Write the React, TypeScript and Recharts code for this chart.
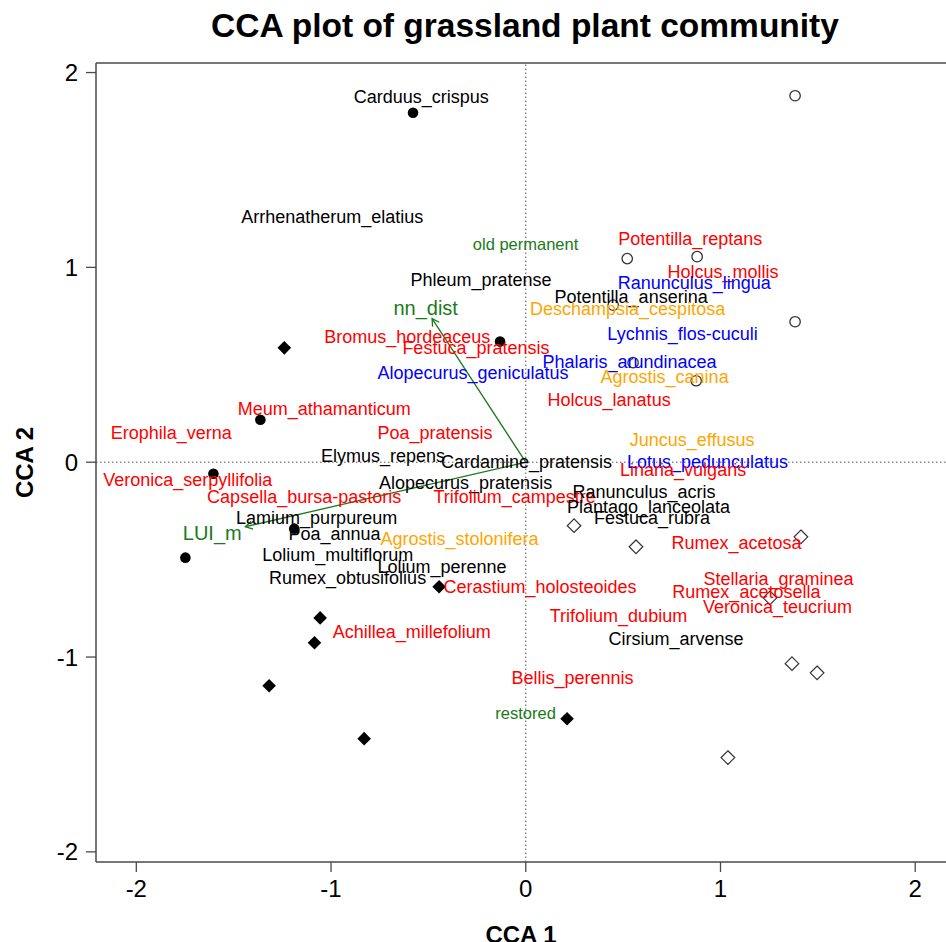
import { ScatterChart, Scatter, XAxis, YAxis, ReferenceLine } from "recharts";

// axis ranges of the R ordination plot
const X_DOMAIN: [number, number] = [-2.207, 2.158];
const Y_DOMAIN: [number, number] = [-2.052, 2.049];
const axisTicks = [-2, -1, 0, 1, 2];

// species scores (label text is centred on the score)
const speciesNames = [
  "Carduus_crispus", "Arrhenatherum_elatius", "Phleum_pratense", "Potentilla_anserina",
  "Potentilla_reptans", "Holcus_mollis", "Ranunculus_lingua", "Deschampsia_cespitosa",
  "Lychnis_flos-cuculi", "Phalaris_arundinacea", "Agrostis_canina", "Holcus_lanatus",
  "Juncus_effusus", "Bromus_hordeaceus", "Festuca_pratensis", "Alopecurus_geniculatus",
  "Meum_athamanticum", "Poa_pratensis", "Erophila_verna", "Elymus_repens",
  "Cardamine_pratensis", "Veronica_serpyllifolia", "Capsella_bursa-pastoris", "Alopecurus_pratensis",
  "Trifolium_campestre", "Lotus_pedunculatus", "Linaria_vulgaris", "Ranunculus_acris",
  "Plantago_lanceolata", "Festuca_rubra", "Lamium_purpureum", "Poa_annua",
  "Agrostis_stolonifera", "Lolium_multiflorum", "Lolium_perenne", "Rumex_obtusifolius",
  "Cerastium_holosteoides", "Rumex_acetosa", "Stellaria_graminea", "Rumex_acetosella",
  "Veronica_teucrium", "Trifolium_dubium", "Cirsium_arvense", "Achillea_millefolium",
  "Bellis_perennis",
];
const speciesX = [
  -0.537, -0.994, -0.230, 0.541,
  0.845, 1.013, 0.865, 0.523,
  0.805, 0.533, 0.713, 0.428,
  0.854, -0.609, -0.256, -0.271,
  -1.035, -0.466, -1.821, -0.733,
  0.004, -1.736, -1.138, -0.309,
  -0.057, 0.933, 0.808, 0.607,
  0.630, 0.648, -1.074, -0.982,
  -0.340, -0.966, -0.430, -0.915,
  0.073, 1.082, 1.298, 1.133,
  1.293, 0.476, 0.772, -0.586,
  0.240,
];
const speciesY = [
  1.876, 1.260, 0.937, 0.850,
  1.147, 0.978, 0.921, 0.788,
  0.660, 0.516, 0.439, 0.321,
  0.116, 0.644, 0.588, 0.460,
  0.275, 0.151, 0.151, 0.033,
  0.003, -0.090, -0.177, -0.105,
  -0.177, 0.003, -0.038, -0.152,
  -0.228, -0.285, -0.285, -0.367,
  -0.393, -0.475, -0.536, -0.593,
  -0.639, -0.413, -0.598, -0.665,
  -0.742, -0.788, -0.906, -0.870,
  -1.106,
];
const speciesColor = [
  "#000000", "#000000", "#000000", "#000000",
  "#FF0000", "#FF0000", "#0000FF", "#FFA500",
  "#0000FF", "#0000FF", "#FFA500", "#FF0000",
  "#FFA500", "#FF0000", "#FF0000", "#0000FF",
  "#FF0000", "#FF0000", "#FF0000", "#000000",
  "#000000", "#FF0000", "#FF0000", "#000000",
  "#FF0000", "#0000FF", "#FF0000", "#000000",
  "#000000", "#000000", "#000000", "#000000",
  "#FFA500", "#000000", "#000000", "#000000",
  "#FF0000", "#FF0000", "#FF0000", "#FF0000",
  "#FF0000", "#FF0000", "#000000", "#FF0000",
  "#FF0000",
];

// site scores, one pair of arrays per plotting symbol
const filledCircleX = [-0.579, -0.132, -1.363, -1.604, -1.189, -1.748];
const filledCircleY = [1.794, 0.619, 0.218, -0.059, -0.341, -0.490];
const filledDiamondX = [-1.240, -1.056, -1.085, -1.318, -0.830, -0.445, 0.212];
const filledDiamondY = [0.587, -0.799, -0.927, -1.147, -1.419, -0.639, -1.317];
const openCircleX = [1.383, 0.521, 0.880, 1.383, 0.449, 0.551, 0.875];
const openCircleY = [1.881, 1.045, 1.055, 0.721, 0.806, 0.511, 0.418];
const openDiamondX = [0.248, 0.566, 1.413, 1.254, 1.367, 1.496, 1.038];
const openDiamondY = [-0.326, -0.434, -0.383, -0.696, -1.034, -1.081, -1.516];

// environmental vectors and factor centroids
const vectorNames = ["nn_dist", "LUI_m"];
const vectorTipX = [-0.481, -1.440];
const vectorTipY = [0.737, -0.331];
const vectorLabelX = [-0.514, -1.610];
const vectorLabelY = [0.793, -0.362];
const centroidNames = ["old permanent", "restored"];
const centroidX = [-0.001, -0.001];
const centroidY = [1.122, -1.287];

const GREEN = "#1a7a1a";
const AXIS = "#4a4a4a";
const FONT = "'Liberation Sans', Arial, Helvetica, sans-serif";

const toPoints = (xs: number[], ys: number[]) => xs.map((x, i) => ({ x, y: ys[i] }));

const speciesData = speciesNames.map((name, i) => ({
  name,
  x: speciesX[i],
  y: speciesY[i],
  color: speciesColor[i],
}));
const vectorLabels = vectorNames.map((name, i) => ({ name, x: vectorLabelX[i], y: vectorLabelY[i] }));
const centroidLabels = centroidNames.map((name, i) => ({ name, x: centroidX[i], y: centroidY[i] }));

function FilledCircle(p: any) {
  return <circle cx={p.cx} cy={p.cy} r={5.3} fill="#000" />;
}
function OpenCircle(p: any) {
  return <circle cx={p.cx} cy={p.cy} r={5.2} fill="none" stroke="#333" strokeWidth={1.3} />;
}
function FilledDiamond(p: any) {
  const s = 6.8;
  return <path d={`M${p.cx},${p.cy - s}L${p.cx + s},${p.cy}L${p.cx},${p.cy + s}L${p.cx - s},${p.cy}Z`} fill="#000" />;
}
function OpenDiamond(p: any) {
  const s = 6.8;
  return (
    <path
      d={`M${p.cx},${p.cy - s}L${p.cx + s},${p.cy}L${p.cx},${p.cy + s}L${p.cx - s},${p.cy}Z`}
      fill="none"
      stroke="#333"
      strokeWidth={1.2}
    />
  );
}

function makeLabel(size: number, colorOf: (d: any) => string) {
  return (p: any) => (
    <text
      x={p.cx}
      y={p.cy}
      textAnchor="middle"
      dominantBaseline="central"
      fontSize={size}
      fontFamily={FONT}
      fill={colorOf(p.payload)}
    >
      {p.payload.name}
    </text>
  );
}

function Arrow(p: any) {
  const { x1, y1, x2, y2 } = p;
  const a = Math.atan2(y2 - y1, x2 - x1);
  const len = 8;
  const spread = Math.PI / 6;
  const h1x = x2 - len * Math.cos(a - spread);
  const h1y = y2 - len * Math.sin(a - spread);
  const h2x = x2 - len * Math.cos(a + spread);
  const h2y = y2 - len * Math.sin(a + spread);
  return (
    <g>
      <line x1={x1} y1={y1} x2={x2} y2={y2} stroke={GREEN} strokeWidth={1.3} />
      <path d={`M${h1x},${h1y}L${x2},${y2}L${h2x},${h2y}`} fill="none" stroke={GREEN} strokeWidth={1.3} />
    </g>
  );
}

function YTitle(p: any) {
  const vb = p.viewBox || {};
  const cy = (vb.y ?? 63) + (vb.height ?? 799) / 2;
  return (
    <text
      x={24}
      y={cy}
      transform={`rotate(-90, 24, ${cy})`}
      textAnchor="middle"
      dominantBaseline="central"
      fontSize={24}
      fontWeight="bold"
      fontFamily={FONT}
      fill="#000"
    >
      CCA 2
    </text>
  );
}

export default function App() {
  return (
    <div style={{ position: "absolute", left: 0, top: 0, width: 946, height: 942, overflow: "hidden", background: "#fff", fontFamily: FONT }}>
      <div
        style={{
          position: "absolute",
          top: 9,
          left: 525 - 400,
          width: 800,
          textAlign: "center",
          fontSize: 33.5,
          lineHeight: "33.5px",
          fontWeight: "bold",
          color: "#000",
        }}
      >
        CCA plot of grassland plant community
      </div>
      <ScatterChart width={946} height={942} margin={{ top: 63, right: 0, bottom: 0, left: 0 }}>
        <XAxis
          type="number"
          dataKey="x"
          domain={X_DOMAIN}
          ticks={axisTicks}
          allowDataOverflow
          height={80}
          tickSize={10}
          tick={{ fontSize: 24, fill: "#000", fontFamily: FONT, dy: 6 }}
          axisLine={{ stroke: AXIS, strokeWidth: 1.5 }}
          tickLine={{ stroke: AXIS, strokeWidth: 1.3 }}
          label={{ value: "CCA 1", position: "insideBottom", offset: -1, fontSize: 24, fontWeight: "bold", fill: "#000", fontFamily: FONT }}
        />
        <YAxis
          type="number"
          dataKey="y"
          domain={Y_DOMAIN}
          ticks={axisTicks}
          allowDataOverflow
          width={96}
          tickSize={10}
          tick={{ fontSize: 24, fill: "#000", fontFamily: FONT, dx: -6 }}
          axisLine={{ stroke: AXIS, strokeWidth: 1.5 }}
          tickLine={{ stroke: AXIS, strokeWidth: 1.3 }}
          label={<YTitle />}
        />
        <ReferenceLine y={Y_DOMAIN[1]} stroke={AXIS} strokeWidth={1.5} />
        <ReferenceLine x={0} stroke="#555" strokeDasharray="1.5 2.5" />
        <ReferenceLine y={0} stroke="#555" strokeDasharray="1.5 2.5" />

        <Scatter data={toPoints(filledCircleX, filledCircleY)} shape={FilledCircle} isAnimationActive={false} />
        <Scatter data={toPoints(filledDiamondX, filledDiamondY)} shape={FilledDiamond} isAnimationActive={false} />
        <Scatter data={toPoints(openCircleX, openCircleY)} shape={OpenCircle} isAnimationActive={false} />
        <Scatter data={toPoints(openDiamondX, openDiamondY)} shape={OpenDiamond} isAnimationActive={false} />

        <Scatter data={speciesData} shape={makeLabel(18, (d) => d.color)} isAnimationActive={false} />

        {vectorNames.map((n, i) => (
          <ReferenceLine
            key={n}
            segment={[{ x: 0, y: 0 }, { x: vectorTipX[i], y: vectorTipY[i] }]}
            shape={Arrow}
          />
        ))}
        <Scatter data={vectorLabels} shape={makeLabel(20, () => GREEN)} isAnimationActive={false} />
        <Scatter data={centroidLabels} shape={makeLabel(16.5, () => GREEN)} isAnimationActive={false} />
      </ScatterChart>
    </div>
  );
}
